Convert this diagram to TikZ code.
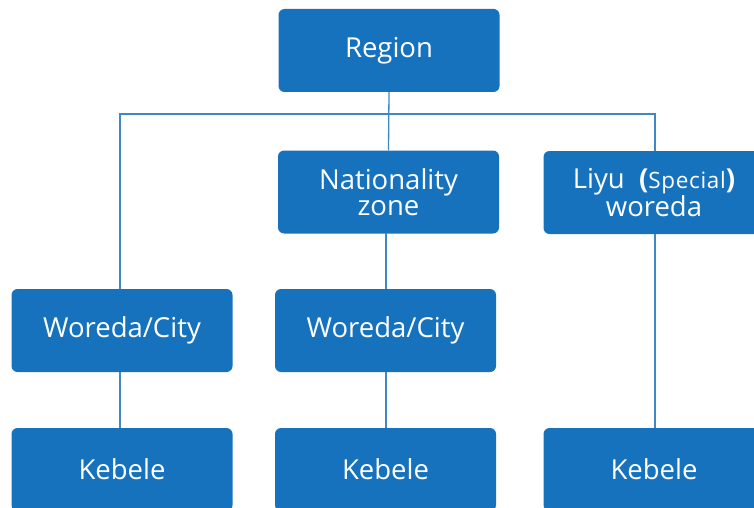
\documentclass[tikz,border=0pt]{standalone}
\usepackage{fontspec}
\setmainfont{Open Sans}
\definecolor{boxblue}{HTML}{1672BD}
\definecolor{lineblue}{HTML}{3F88C5}
\begin{document}
\begin{tikzpicture}[x=1pt,y=-1pt,
  orgbox/.style={fill=boxblue,draw=none,rounded corners=6pt,text=white,
    minimum width=221pt,minimum height=83pt,inner sep=0pt,align=center,
    font=\fontsize{27.5}{26}\selectfont},
  conn/.style={draw=lineblue,line width=1.3pt}]
\useasboundingbox (0,0) rectangle (754,508);
\clip (0,0) rectangle (754,508);
\node[orgbox] (region) at (389,50.5) {Region};
\node[orgbox] (nat) at (388.5,192) {Nationality\\zone};
\node[orgbox] (liyu) at (654,192.5) {Liyu\ \ {\bfseries(}{\addfontfeatures{LetterSpace=3}\fontsize{22.5}{22}\selectfont Special}{\bfseries)}\\woreda};
\node[orgbox] (wl) at (122,330.5) {Woreda/City};
\node[orgbox] (wm) at (385.5,330.5) {Woreda/City};
\node[orgbox] (kl) at (122,469.5) {Kebele};
\node[orgbox] (km) at (385.5,469.5) {Kebele};
\node[orgbox] (kr) at (654,469.5) {Kebele};
\coordinate (jl) at (120,114);
\coordinate (jr) at (655,114);
\draw[conn] (region.south) -- (nat.north);
\draw[conn] (jl |- wl.north) -- (jl) -- (jr) -- (jr |- liyu.north);
\draw[conn] (386,232.5) coordinate (nb) -- (nb |- wm.north);
\draw[conn] (386,372) coordinate (wb) -- (wb |- km.north);
\draw[conn] (120,372) coordinate (lb) -- (lb |- kl.north);
\draw[conn] (jr |- liyu.south) -- (jr |- kr.north);
\end{tikzpicture}
\end{document}
